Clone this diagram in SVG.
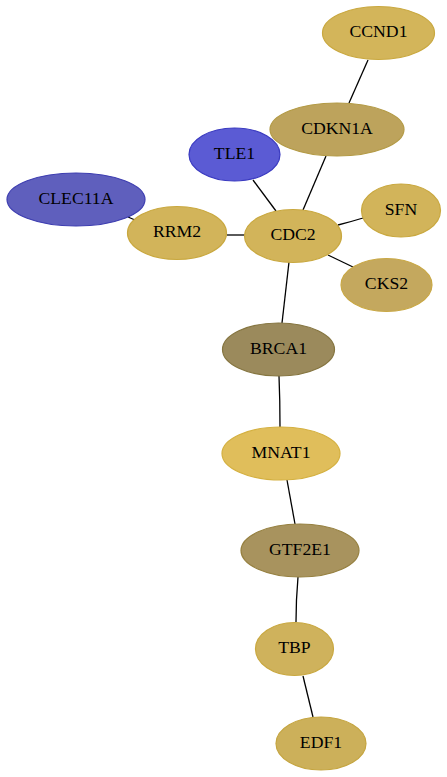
<svg xmlns="http://www.w3.org/2000/svg" width="447" height="777" viewBox="0 0 447 777">
<style>
.e{fill:none;stroke:#000;stroke-width:1.3}
.n ellipse{stroke-width:1.2}
.n text{font-family:"Liberation Serif","Times New Roman",serif;font-size:17.7px;text-anchor:middle;fill:#000}
</style>
<rect width="447" height="777" fill="#fff"/>
<g id="edges">
<path class="e" d="M368,60 L349,103"/>
<path class="e" d="M326,156 L303,210"/>
<path class="e" d="M253,180 L276,211"/>
<path class="e" d="M128,217 L135,220"/>
<path class="e" d="M227,235 L245,235"/>
<path class="e" d="M338,225 Q350,222 363,218"/>
<path class="e" d="M328,255 L353,267"/>
<path class="e" d="M289,262 L282,323"/>
<path class="e" d="M279,376 Q280,400 280,427"/>
<path class="e" d="M287,480 L295,524"/>
<path class="e" d="M298,577 Q296,600 296,622"/>
<path class="e" d="M303,676 L313,717"/>
</g>
<g id="CCND1" class="n"><ellipse cx="378.5" cy="33" rx="56" ry="26.5" fill="#d3b55a" stroke="#c9a83f"/><text x="378.5" y="37.2">CCND1</text></g>
<g id="CDKN1A" class="n"><ellipse cx="337" cy="129.5" rx="67" ry="26.5" fill="#bda35c" stroke="#b39a45"/><text x="337" y="133.7">CDKN1A</text></g>
<g id="TLE1" class="n"><ellipse cx="234.5" cy="154.5" rx="45.5" ry="26.5" fill="#5b5bd4" stroke="#3a3ac0"/><text x="234.5" y="158.7">TLE1</text></g>
<g id="CLEC11A" class="n"><ellipse cx="76" cy="199.5" rx="69" ry="26.5" fill="#5f5fbd" stroke="#3d3db0"/><text x="76" y="203.5">CLEC11A</text></g>
<g id="RRM2" class="n"><ellipse cx="177" cy="233" rx="49.5" ry="26.5" fill="#d2b45a" stroke="#c9a83f"/><text x="177" y="237.2">RRM2</text></g>
<g id="CDC2" class="n"><ellipse cx="293" cy="236" rx="48.5" ry="26.5" fill="#d2b45a" stroke="#c9a83f"/><text x="293" y="240.2">CDC2</text></g>
<g id="SFN" class="n"><ellipse cx="401" cy="210.5" rx="39.5" ry="26.5" fill="#d2b45a" stroke="#c9a83f"/><text x="401" y="214.7">SFN</text></g>
<g id="CKS2" class="n"><ellipse cx="386.5" cy="285" rx="45.5" ry="26.5" fill="#c4a85e" stroke="#c9a845"/><text x="386.5" y="289.2">CKS2</text></g>
<g id="BRCA1" class="n"><ellipse cx="278.5" cy="349.5" rx="56" ry="26.5" fill="#9b8a5c" stroke="#857540"/><text x="278.5" y="353.5">BRCA1</text></g>
<g id="MNAT1" class="n"><ellipse cx="281" cy="453.5" rx="59" ry="26.5" fill="#e0be5b" stroke="#d4b040"/><text x="281" y="457.7">MNAT1</text></g>
<g id="GTF2E1" class="n"><ellipse cx="300" cy="550.5" rx="59" ry="26.5" fill="#a8935e" stroke="#968040"/><text x="300" y="554.7">GTF2E1</text></g>
<g id="TBP" class="n"><ellipse cx="294.5" cy="649" rx="39" ry="26.5" fill="#cfb25c" stroke="#c9a840"/><text x="294.5" y="653.2">TBP</text></g>
<g id="EDF1" class="n"><ellipse cx="321" cy="743.5" rx="45" ry="26.5" fill="#ccb05a" stroke="#c5a540"/><text x="321" y="747.7">EDF1</text></g>
</svg>
